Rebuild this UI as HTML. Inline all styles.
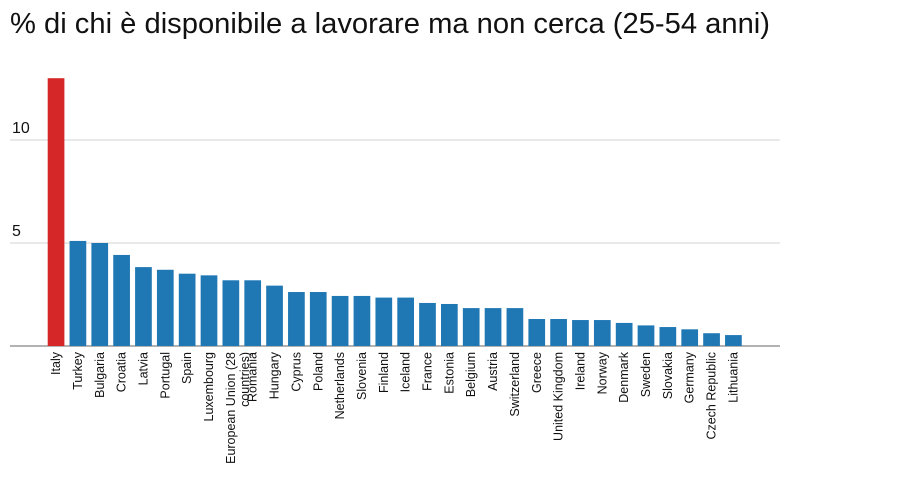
<!DOCTYPE html>
<html><head><meta charset="utf-8"><style>
body{margin:0;background:#fff;width:911px;height:478px;overflow:hidden;font-family:"Liberation Sans",Arial,sans-serif}
</style></head><body>
<svg id="chart" width="911" height="478" xmlns="http://www.w3.org/2000/svg" font-family="Liberation Sans, Arial, sans-serif">
<text x="10" y="33" font-size="29" fill="#111" textLength="760" lengthAdjust="spacingAndGlyphs">% di chi è disponibile a lavorare ma non cerca (25-54 anni)</text>
<g id="grid"></g><g id="bars"></g><g id="labels"></g>
</svg>
<script>
const categories=["Italy","Turkey","Bulgaria","Croatia","Latvia","Portugal","Spain","Luxembourg","European Union (28 countries)","Romania","Hungary","Cyprus","Poland","Netherlands","Slovenia","Finland","Iceland","France","Estonia","Belgium","Austria","Switzerland","Greece","United Kingdom","Ireland","Norway","Denmark","Sweden","Slovakia","Germany","Czech Republic","Lithuania"];
const values=[13.0,5.1,5.0,4.42,3.83,3.7,3.51,3.43,3.19,3.19,2.93,2.62,2.62,2.43,2.43,2.35,2.35,2.09,2.04,1.84,1.84,1.84,1.31,1.31,1.26,1.26,1.12,1.0,0.92,0.81,0.62,0.53];
const ticks=[5,10];
const NS="http://www.w3.org/2000/svg";
const y0=346,pxPer=20.6,x0=47.7,step=21.85,bw=16.7;
const y=v=>y0-v*pxPer, x=i=>x0+i*step;
const grid=document.getElementById('grid'),bars=document.getElementById('bars'),labels=document.getElementById('labels');
function mk(tag,attrs,parent){const e=document.createElementNS(NS,tag);for(const k in attrs)e.setAttribute(k,attrs[k]);parent.appendChild(e);return e;}
ticks.forEach(t=>{
 const l=mk('line',{x1:10,x2:780,y1:y(t),y2:y(t),stroke:'#e2e2e2','stroke-width':1.5},grid);
 
 
 const tx=mk('text',{x:12,y:y(t)-7,'font-size':16,fill:'#111'},grid);
 tx.textContent=t;
 
 
});
const ax=mk('line',{x1:10,x2:780,y1:y0,y2:y0,stroke:'#999','stroke-width':1.5},grid);


values.forEach((v,i)=>{
 const r=mk('rect',{x:x(i),y:y(v),width:bw,height:y0-y(v),fill:i===0?'#d62728':'#1f77b4'},bars);
 
 
 const cx=x(i)+bw/2+4;
 const name=categories[i];
 let lines=[name];
 if(name.length>22){const k=name.lastIndexOf(' ');lines=[name.slice(0,k),name.slice(k+1)];}
 lines.forEach((ln,j)=>{
  const t=mk('text',{x:0,y:0,'font-size':12.5,fill:'#111','text-anchor':'end',transform:`translate(${cx+j*14},352) rotate(-90)`},labels);
  t.textContent=ln;
  
  
 });
});
</script>
</body></html>
